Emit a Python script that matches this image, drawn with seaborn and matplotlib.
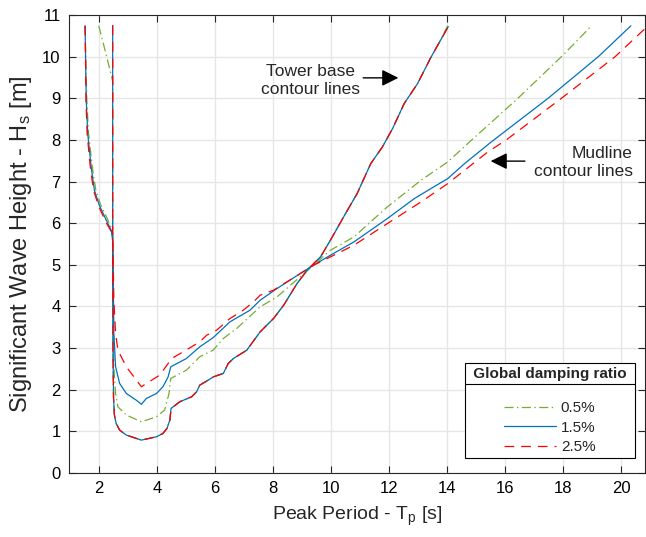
import matplotlib
matplotlib.use("Agg")
import matplotlib.pyplot as plt
from matplotlib.lines import Line2D
import seaborn as sns

# ---------------- data ----------------
damping_labels = ["0.5%", "1.5%", "2.5%"]

# Mudline contour lines
mud_x_05 = [1.53, 1.56, 1.59, 1.65, 1.78, 1.90, 2.06, 2.30, 2.45, 2.48, 2.50, 2.52, 2.58,
            2.66, 2.95, 3.47, 3.99, 4.27, 4.42, 4.48, 5.02, 5.48, 5.94, 6.29, 6.75, 7.56,
            8.14, 8.94, 9.40, 9.98, 10.79, 11.94, 13.10, 14.02, 14.85, 15.52, 16.44, 17.94, 18.92]
mud_y_05 = [10.74, 9.74, 8.94, 8.15, 7.34, 6.79, 6.45, 6.10, 5.85, 5.65, 4.50, 2.55, 1.91,
            1.59, 1.39, 1.23, 1.35, 1.51, 1.91, 2.27, 2.47, 2.79, 2.95, 3.23, 3.47, 3.99,
            4.23, 4.71, 4.99, 5.35, 5.67, 6.39, 7.03, 7.47, 8.00, 8.42, 9.00, 10.00, 10.70]

mud_x_15 = [1.53, 1.55, 1.57, 1.62, 1.74, 1.85, 2.02, 2.26, 2.43, 2.48, 2.50, 2.52, 2.58,
            2.72, 2.95, 3.29, 3.47, 3.64, 3.99, 4.21, 4.39, 4.48, 5.02, 5.48, 5.94, 6.52,
            7.21, 7.56, 8.14, 8.94, 9.40, 9.98, 10.79, 11.94, 12.87, 13.44, 14.02, 14.60,
            15.52, 17.48, 19.21, 20.33]
mud_y_15 = [10.74, 9.74, 8.94, 8.15, 7.34, 6.79, 6.43, 6.07, 5.83, 5.59, 4.60, 3.35, 2.55,
            2.15, 1.91, 1.75, 1.65, 1.79, 1.91, 2.07, 2.31, 2.55, 2.75, 3.03, 3.25, 3.63,
            3.91, 4.15, 4.43, 4.79, 4.99, 5.23, 5.55, 6.11, 6.59, 6.83, 7.07, 7.43,
            7.95, 9.00, 10.00, 10.74]

mud_x_25 = [1.53, 1.55, 1.56, 1.60, 1.71, 1.82, 2.00, 2.25, 2.43, 2.48, 2.50, 2.52, 2.58,
            2.66, 2.95, 3.47, 3.64, 4.10, 4.39, 4.51, 4.91, 5.48, 5.72, 6.06, 6.52, 6.98,
            7.33, 7.56, 8.02, 8.48, 8.94, 9.40, 9.98, 10.79, 11.94, 13.10, 14.02, 15.40,
            16.04, 17.94, 19.79, 20.92]
mud_y_25 = [10.74, 9.74, 8.94, 8.15, 7.34, 6.79, 6.40, 6.02, 5.80, 5.59, 5.00, 4.15, 3.35,
            2.95, 2.55, 2.07, 2.15, 2.35, 2.63, 2.75, 2.91, 3.15, 3.31, 3.43, 3.71, 3.91,
            4.11, 4.27, 4.39, 4.59, 4.79, 4.99, 5.19, 5.47, 5.99, 6.51, 6.95, 7.71,
            8.00, 9.00, 10.00, 10.74]

# Tower base contour lines
tower_x = [2.48, 2.48, 2.49, 2.51, 2.54, 2.60, 2.72, 2.95, 3.47, 3.99, 4.21, 4.35, 4.45,
           4.49, 4.79, 5.20, 5.37, 5.48, 5.77, 5.95, 6.29, 6.46, 6.64, 7.10, 7.56, 8.02,
           8.37, 8.83, 9.18, 9.46, 9.64, 9.98, 10.50, 10.90, 11.37, 11.77, 12.12, 12.52,
           12.98, 13.44, 13.73, 14.04]
tower_y = [10.75, 5.59, 3.00, 1.80, 1.39, 1.19, 1.03, 0.91, 0.79, 0.87, 0.95, 1.07, 1.27,
           1.55, 1.71, 1.83, 1.95, 2.11, 2.23, 2.31, 2.39, 2.63, 2.75, 2.95, 3.39, 3.71,
           4.03, 4.55, 4.87, 5.07, 5.19, 5.59, 6.23, 6.71, 7.43, 7.83, 8.27, 8.87,
           9.35, 9.98, 10.34, 10.72]
tower_x_05 = [2.00, 2.20, 2.45, 2.48, 2.48, 2.49, 2.51, 2.54, 2.60, 2.72, 2.95, 3.47, 3.99,
              4.21, 4.35, 4.45, 4.49, 4.79, 5.20, 5.37, 5.48, 5.77, 5.95, 6.29, 6.46, 6.64,
              7.10, 7.56, 8.02, 8.37, 8.83, 9.18, 9.46, 9.64, 9.98, 10.50, 10.90, 11.37,
              11.77, 12.12, 12.52, 12.98, 13.44, 13.73, 14.02]
tower_y_05 = [10.74, 10.20, 9.50, 9.40, 5.59, 3.00, 1.80, 1.39, 1.19, 1.03, 0.91, 0.79, 0.87,
              0.95, 1.07, 1.27, 1.55, 1.71, 1.83, 1.95, 2.11, 2.23, 2.31, 2.39, 2.63, 2.75,
              2.95, 3.39, 3.71, 4.03, 4.55, 4.87, 5.07, 5.19, 5.59, 6.23, 6.71, 7.43,
              7.83, 8.27, 8.87, 9.35, 9.98, 10.34, 10.74]

x_ticks = [2, 4, 6, 8, 10, 12, 14, 16, 18, 20]
y_ticks = list(range(0, 12))

# ---------------- style ----------------
sns.set_style("ticks")
plt.rcParams["font.family"] = ["Liberation Sans", "DejaVu Sans"]
plt.rcParams["mathtext.fontset"] = "custom"
plt.rcParams["mathtext.rm"] = "Liberation Sans"
plt.rcParams["mathtext.it"] = "Liberation Sans:italic"
plt.rcParams["mathtext.bf"] = "Liberation Sans:bold"
plt.rcParams["lines.scale_dashes"] = False

c_green = "#77AC30"
c_blue = "#0072BD"
c_red = "#FF0000"
ls_green = (0, (6.5, 2.5, 1.0, 2.5))
ls_blue = "-"
ls_red = (0, (7.0, 5.0))
lw = 0.9

fig = plt.figure(figsize=(6.46, 5.37), dpi=100)
ax = fig.add_axes([0.1068, 0.1192, 0.8909, 0.8529])

curves = [
    (tower_x_05, tower_y_05, c_green, ls_green),
    (mud_x_05, mud_y_05, c_green, ls_green),
    (tower_x, tower_y, c_blue, ls_blue),
    (mud_x_15, mud_y_15, c_blue, ls_blue),
    (tower_x, tower_y, c_red, ls_red),
    (mud_x_25, mud_y_25, c_red, ls_red),
]
for xs, ys, col, ls in curves:
    sns.lineplot(x=xs, y=ys, sort=False, estimator=None, ax=ax,
                 color=col, linestyle=ls, linewidth=lw, legend=False, zorder=3)

ax.set_xlim(0.975, 20.8)
ax.set_ylim(0, 11)
ax.set_xticks(x_ticks)
ax.set_yticks(y_ticks)
ax.grid(True, color="#e6e6e6", linewidth=1.0, zorder=0)
ax.set_axisbelow(True)
for s in ax.spines.values():
    s.set_visible(True)
    s.set_color("#262626")
    s.set_linewidth(0.8)
ax.tick_params(direction="in", length=5, width=0.8, top=True, right=True,
               labelsize=12, colors="#262626", labelcolor="black", pad=6)

ax.set_xlabel("Peak Period - T$_{\\mathrm{p}}$ [s]", fontsize=14, labelpad=6)
ax.set_ylabel("Significant Wave Height - H$_{\\mathrm{s}}$ [m]", fontsize=17, labelpad=6)

# annotations
ax.text(9.30, 9.43, "Tower base\ncontour lines", ha="center", va="center",
        fontsize=12.5, linespacing=1.25)
ax.annotate("", xy=(12.32, 9.49), xytext=(11.11, 9.49),
            arrowprops=dict(arrowstyle="-|>,head_length=0.5,head_width=0.25",
                            color="black", lw=1.0, mutation_scale=20,
                            shrinkA=0, shrinkB=0))
ax.text(20.40, 7.45, "Mudline\ncontour lines", ha="right", va="center",
        fontsize=12.5, linespacing=1.25)
ax.annotate("", xy=(15.50, 7.49), xytext=(16.68, 7.49),
            arrowprops=dict(arrowstyle="-|>,head_length=0.5,head_width=0.25",
                            color="black", lw=1.0, mutation_scale=20,
                            shrinkA=0, shrinkB=0))

# legend
handles = [Line2D([], [], color=c_green, linestyle=ls_green, lw=lw),
           Line2D([], [], color=c_blue, linestyle=ls_blue, lw=lw),
           Line2D([], [], color=c_red, linestyle=ls_red, lw=lw)]
leg = ax.legend(handles, damping_labels, title=" Global damping ratio ",
                loc="lower right", bbox_to_anchor=(0.9835, 0.032), borderaxespad=0,
                fontsize=11, title_fontproperties={"weight": "bold", "size": 11},
                handlelength=3.4, handletextpad=0.3, labelspacing=0.36,
                borderpad=0.28, fancybox=False, framealpha=1, edgecolor="black")
leg.get_frame().set_linewidth(0.8)
leg.set_zorder(5)
leg._legend_box.sep = 14.5

fig.canvas.draw()
fb = leg.get_frame().get_window_extent()
tb = leg.get_title().get_window_extent()
ysep = tb.y0 - 3
inv = fig.transFigure.inverted()
(x0, y0) = inv.transform((fb.x0, ysep))
(x1, _) = inv.transform((fb.x1, ysep))
fig.add_artist(Line2D([x0, x1], [y0, y0], color="black", lw=0.8, zorder=6,
                      transform=fig.transFigure))

fig.savefig("out.png", dpi=100)
